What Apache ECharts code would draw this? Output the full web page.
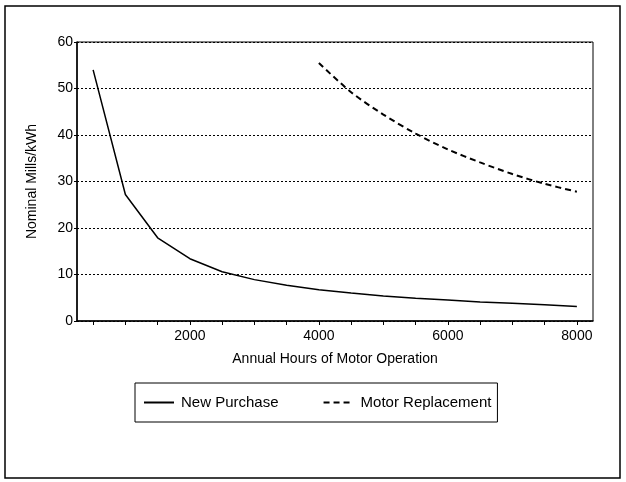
<!DOCTYPE html>
<html lang="en">
    <head>
        <meta charset="utf-8" />
        <title>Nominal Mills/kWh</title>
        <style>
            * {
                margin: 0;
                padding: 0;
            }
            html,
            body {
                width: 626px;
                height: 482px;
                background: #fff;
            }
            #chart {
                width: 626px;
                height: 482px;
            }
        </style>
    </head>
    <body>
        <div id="chart"></div>
        <script src="https://cdn.jsdelivr.net/npm/echarts@6/dist/echarts.min.js"></script>
        <script>
            // hours of operation
            const hours = [500, 1000, 1500, 2000, 2500, 3000, 3500, 4000, 4500, 5000, 5500, 6000, 6500, 7000, 7500, 8000]
            const newPurchase = [54, 27.2, 17.9, 13.4, 10.6, 8.9, 7.7, 6.7, 6.0, 5.4, 4.9, 4.5, 4.1, 3.8, 3.5, 3.1]
            const replHours = [4000, 4500, 5000, 5500, 6000, 6500, 7000, 7500, 8000]
            const motorReplacement = [55.5, 49.2, 44.4, 40.3, 36.9, 34.1, 31.6, 29.5, 27.8]
            const xTicks = [500, 1000, 1500, 2000, 2500, 3000, 3500, 4000, 4500, 5000, 5500, 6000, 6500, 7000, 7500, 8000]
            const xLabels = [2000, 4000, 6000, 8000]

            const font = 'Liberation Sans, Arial, sans-serif'
            const chart = echarts.init(document.getElementById('chart'))
            chart.setOption({
                animation: false,
                backgroundColor: '#fff',
                textStyle: { fontFamily: font, color: '#000' },
                graphic: [
                    {
                        type: 'rect',
                        shape: { x: 5, y: 6, width: 615, height: 472 },
                        style: { fill: 'none', stroke: '#000', lineWidth: 1.5 },
                    },
                ],
                grid: {
                    left: 77,
                    right: 33,
                    top: 42,
                    bottom: 161,
                    show: true,
                    borderColor: '#000',
                    borderWidth: 1,
                },
                legend: {
                    left: 135,
                    top: 383,
                    padding: [12, 6, 12, 8],
                    itemGap: 44,
                    itemWidth: 30,
                    itemHeight: 14,
                    borderColor: '#000',
                    borderWidth: 1,
                    itemStyle: { opacity: 0 },
                    textStyle: { fontFamily: font, fontSize: 15, color: '#000', padding: [0, 0, 0, 2] },
                    data: ['New Purchase', 'Motor Replacement'],
                },
                xAxis: {
                    type: 'value',
                    min: 250,
                    max: 8250,
                    name: 'Annual Hours of Motor Operation',
                    nameLocation: 'middle',
                    nameGap: 31,
                    nameTextStyle: { fontFamily: font, fontSize: 14, color: '#000' },
                    axisLine: { show: true, lineStyle: { color: '#000', width: 1.5 } },
                    axisTick: { show: true, length: 4, customValues: xTicks, lineStyle: { color: '#000' } },
                    axisLabel: {
                        customValues: xLabels,
                        fontSize: 14,
                        color: '#000',
                        margin: 8,
                        formatter: (v) => String(v),
                    },
                    splitLine: { show: false },
                },
                yAxis: {
                    type: 'value',
                    min: 0,
                    max: 60,
                    interval: 10,
                    name: 'Nominal Mills/kWh',
                    nameLocation: 'middle',
                    nameGap: 38,
                    nameTextStyle: { fontFamily: font, fontSize: 14, color: '#000' },
                    axisLine: { show: true, lineStyle: { color: '#000', width: 1.5 } },
                    axisTick: { show: true, length: 3, lineStyle: { color: '#000' } },
                    axisLabel: { fontSize: 14, color: '#000', margin: 4 },
                    splitLine: { show: true, lineStyle: { color: '#000', type: [2, 2], width: 1 } },
                },
                series: [
                    {
                        name: 'New Purchase',
                        type: 'line',
                        symbol: 'none',
                        data: hours.map((h, i) => [h, newPurchase[i]]),
                        lineStyle: { color: '#000', width: 1.5 },
                        itemStyle: { color: '#000' },
                    },
                    {
                        name: 'Motor Replacement',
                        type: 'line',
                        symbol: 'none',
                        smooth: 0.3,
                        data: replHours.map((h, i) => [h, motorReplacement[i]]),
                        lineStyle: { color: '#000', width: 2, type: [6, 4] },
                        itemStyle: { color: '#000' },
                    },
                ],
            })
        </script>
    </body>
</html>
